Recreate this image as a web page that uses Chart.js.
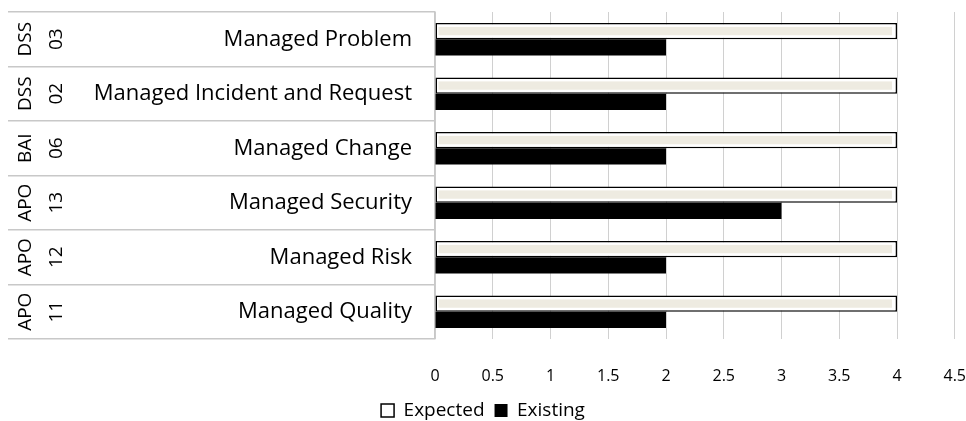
<!DOCTYPE html>
<html lang="en">
<head>
  <meta charset="UTF-8" />
  <title>Expected vs Existing</title>
  <script src="https://cdn.jsdelivr.net/npm/chart.js"></script>
  <style>
    body { margin: 0; background: #fff; }
    #wrap { width: 966px; height: 421px; }
  </style>
</head>
<body>
  <div id="wrap"><canvas id="chartNiveles"></canvas></div>

  <script>
    // process names and their COBIT codes (top to bottom)
    const procesos = ['Managed Problem', 'Managed Incident and Request', 'Managed Change',
                      'Managed Security', 'Managed Risk', 'Managed Quality'];
    const codigos = [['DSS', '03'], ['DSS', '02'], ['BAI', '06'], ['APO', '13'], ['APO', '12'], ['APO', '11']];
    const esperado = [4, 4, 4, 4, 4, 4];
    const existente = [2, 2, 2, 3, 2, 2];
    const etiquetasX = ['0', '0.5', '1', '1.5', '2', '2.5', '3', '3.5', '4', '4.5'];

    const ANCHO_EJE = 435;
    const LARGO_TICK = 427;

    // beige stripe inside the "Expected" bars
    const franjaPlugin = {
      id: 'franja',
      afterDatasetDraw(chart, args) {
        if (args.index !== 0) return;
        const ctx = chart.ctx;
        ctx.save();
        ctx.fillStyle = '#eeebe1';
        args.meta.data.forEach(bar => {
          const { x, y, base, height } = bar.getProps(['x', 'y', 'base', 'height'], true);
          ctx.fillRect(base + 3, y - height / 2 + 4, x - base - 8, height - 8);
        });
        ctx.restore();
      }
    };

    // rotated codes at the left of each row
    const codigosPlugin = {
      id: 'codigos',
      afterDraw(chart) {
        const ctx = chart.ctx;
        const escala = chart.scales.y;
        ctx.save();
        ctx.fillStyle = '#000';
        ctx.font = '19px "Open Sans"';
        ctx.textAlign = 'center';
        ctx.textBaseline = 'middle';
        codigos.forEach((c, i) => {
          const yc = escala.getPixelForTick(i);
          [[26, c[0]], [57, c[1]]].forEach(([xc, txt]) => {
            ctx.save();
            ctx.translate(xc, yc);
            ctx.rotate(-Math.PI / 2);
            ctx.fillText(txt, 0, 0);
            ctx.restore();
          });
        });
        ctx.restore();
      }
    };

    const ctx = document.getElementById('chartNiveles').getContext('2d');
    new Chart(ctx, {
      type: 'bar',
      data: {
        labels: procesos,
        datasets: [{
          label: 'Expected',
          data: esperado,
          backgroundColor: '#ffffff',
          borderColor: '#000000',
          borderWidth: 1.5,
          borderSkipped: false,
          categoryPercentage: 0.6,
          barPercentage: 1
        }, {
          label: 'Existing',
          data: existente,
          backgroundColor: '#000000',
          borderColor: '#000000',
          borderWidth: 0,
          categoryPercentage: 0.6,
          barPercentage: 1
        }]
      },
      options: {
        indexAxis: 'y',
        responsive: true,
        maintainAspectRatio: false,
        animation: false,
        layout: { padding: { top: 12, right: 0, left: 0, bottom: -9 } },
        scales: {
          x: {
            min: 0,
            max: 4.5,
            afterFit(scale) { scale.height = 52; },
            ticks: {
              stepSize: 0.5,
              padding: 0,
              color: '#000',
              font: { family: '"Open Sans"', size: 16 },
              callback: (v, i) => etiquetasX[i]
            },
            grid: { color: '#d0d0d0', drawTicks: true, tickLength: 28, tickColor: 'rgba(0,0,0,0)' },
            border: { display: false }
          },
          y: {
            afterFit(scale) { scale.width = ANCHO_EJE; },
            ticks: {
              padding: -(LARGO_TICK - 23),
              color: '#000',
              font: { family: '"Open Sans"', size: 22 }
            },
            grid: {
              offset: true,
              drawOnChartArea: false,
              drawTicks: true,
              tickLength: LARGO_TICK,
              color: '#c8c8c8',
              lineWidth: 1.5
            },
            border: { display: true, color: '#c8c8c8', width: 1.5 }
          }
        },
        plugins: {
          legend: {
            position: 'bottom',
            labels: {
              color: '#000',
              boxWidth: 13,
              boxHeight: 13,
              padding: 10,
              font: { family: '"Open Sans"', size: 19 }
            }
          },
          tooltip: { enabled: false }
        }
      },
      plugins: [franjaPlugin, codigosPlugin]
    });
  </script>
</body>
</html>
